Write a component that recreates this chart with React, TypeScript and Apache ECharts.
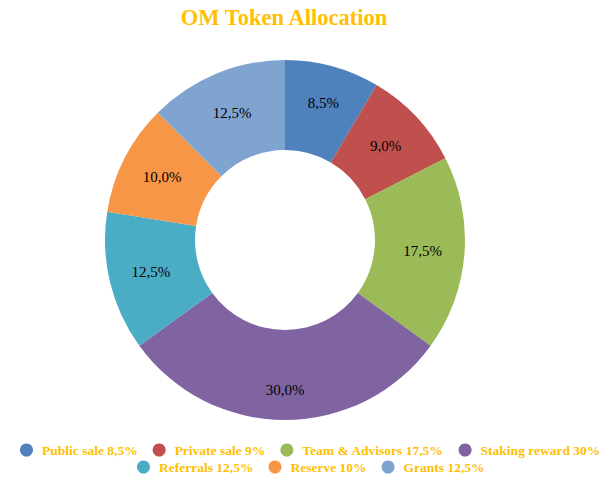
import React, { useEffect, useRef } from "react";
import * as echarts from "echarts";

const categories = [
  "Public sale 8,5%",
  "Private sale 9%",
  "Team & Advisors 17,5%",
  "Staking reward 30%",
  "Referrals 12,5%",
  "Reserve 10%",
  "Grants 12,5%",
];
const values = [8.5, 9.0, 17.5, 30.0, 12.5, 10.0, 12.5];
const colors = ["#4F81BD", "#C0504D", "#9BBB59", "#8064A2", "#4BACC6", "#F79646", "#80A4D0"];
const legendRow1 = categories.slice(0, 4);
const legendRow2 = categories.slice(4);

const GOLD = "#FFC000";
const SERIF = "'Liberation Serif', 'Times New Roman', serif";

export default function App() {
  const ref = useRef<HTMLDivElement>(null);
  useEffect(() => {
    if (!ref.current) return;
    const chart = echarts.init(ref.current, undefined, { renderer: "svg" });
    const legendCommon = {
      orient: "horizontal" as const,
      icon: "circle",
      itemWidth: 21,
      itemHeight: 13,
      itemGap: 15,
      padding: 0,
      textStyle: { color: GOLD, fontFamily: SERIF, fontWeight: "bold" as const, fontSize: 13.5 },
      selectedMode: false,
    };
    chart.setOption({
      animation: false,
      backgroundColor: "#ffffff",
      title: {
        text: "OM Token Allocation",
        left: 284,
        textAlign: "center",
        top: 6,
        padding: 0,
        textStyle: { color: GOLD, fontFamily: SERIF, fontWeight: "bold", fontSize: 22.5 },
      },
      legend: [
        { ...legendCommon, data: legendRow1, left: 20, top: 443 },
        { ...legendCommon, data: legendRow2, left: 137, top: 460 },
      ],
      series: [
        {
          type: "pie",
          center: [285, 240],
          radius: [90, 180],
          startAngle: 90,
          clockwise: true,
          avoidLabelOverlap: false,
          label: {
            show: true,
            position: "inside",
            color: "#000000",
            fontFamily: SERIF,
            fontSize: 15,
            formatter: (p: any) => values[p.dataIndex].toFixed(1).replace(".", ",") + "%",
          },
          labelLine: { show: false },
          itemStyle: { borderWidth: 0 },
          emphasis: { disabled: true },
          data: categories.map((name, i) => ({
            name,
            value: values[i],
            itemStyle: { color: colors[i] },
            label: i === 3 ? { offset: [0, 12] } : i === 0 ? { offset: [2, -4] } : undefined,
          })),
        },
      ],
    });
    return () => chart.dispose();
  }, []);
  return (
    <div
      ref={ref}
      style={{ position: "absolute", left: 0, top: 0, width: 602, height: 479 }}
    />
  );
}
